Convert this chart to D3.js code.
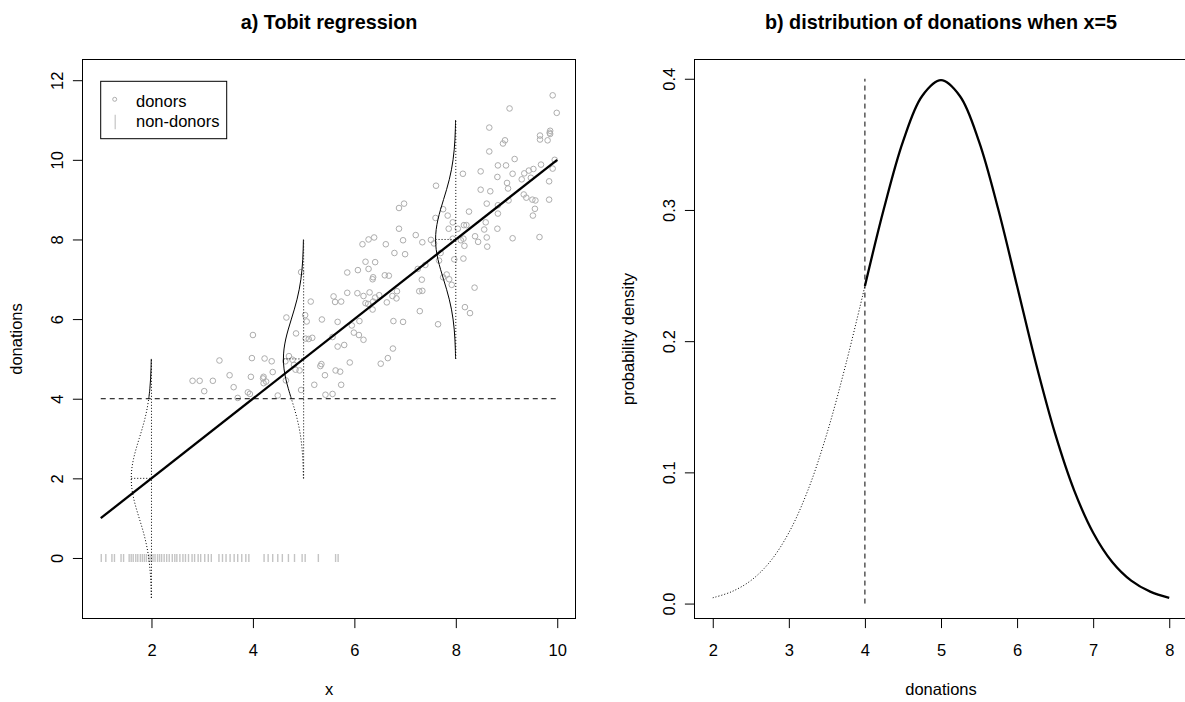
<!DOCTYPE html>
<html>
<head>
<meta charset="utf-8">
<script src="https://cdn.jsdelivr.net/npm/d3@7"></script>
<style>
  body { margin: 0; background: #fff; }
  svg { display: block; }
  text { font-family: "Liberation Sans", Arial, Helvetica, sans-serif; fill: #000; }
</style>
</head>
<body>
<svg id="chart" width="1185" height="702"></svg>
<script>
var donorX = [
  9.91,9.06,9.99,8.66,8.97,8.93,9.66,9.86,9.85,9.86,
  9.66,9.81,8.66,9.16,8.83,8.99,9.95,9.91,9.68,8.49,
  8.14,9.12,9.35,9.44,9.53,9.30,9.48,8.82,9.01,9.84,
  7.61,8.49,8.68,9.03,9.34,9.39,9.51,9.57,9.04,9.84,
  8.61,8.83,9.56,9.52,7.75,7.60,7.84,8.26,7.94,7.86,
  8.04,8.16,8.21,8.59,8.56,8.82,8.83,9.65,9.12,8.38,
  8.44,8.61,8.62,8.15,8.10,8.17,7.94,7.51,7.57,7.34,
  7.21,6.88,6.88,6.98,6.96,7.00,6.79,6.62,6.16,6.28,
  6.39,7.67,7.70,7.97,8.15,7.40,7.25,7.33,7.28,7.34,
  7.75,7.82,7.87,7.92,7.29,7.65,8.18,8.28,8.37,6.68,
  6.60,6.37,6.36,6.28,6.22,6.41,6.07,5.86,6.06,6.18,
  6.30,6.49,6.41,6.37,6.22,6.27,6.36,6.64,6.75,6.84,
  6.83,6.77,6.96,6.76,6.66,6.52,5.59,5.62,5.74,5.86,
  5.67,6.10,5.95,5.99,6.09,6.18,5.57,5.14,5.03,5.06,
  5.04,5.10,5.17,5.36,4.66,4.85,4.95,4.71,4.64,4.78,
  4.81,4.84,4.92,4.95,5.35,5.33,5.42,5.21,5.67,5.80,
  5.91,5.63,5.72,5.74,5.43,5.57,4.49,4.65,4.39,4.37,
  4.21,4.20,4.21,4.26,4.23,3.98,3.96,4.00,3.62,3.70,
  3.90,3.94,3.54,3.34,3.21,3.04,2.95,2.81]
var donorY = [
  11.62,11.29,11.18,10.81,10.49,10.41,10.61,10.73,10.68,10.65,
  10.51,10.49,10.21,10.02,9.86,9.86,10.00,9.78,9.88,9.71,
  9.65,9.65,9.66,9.73,9.77,9.51,9.55,9.57,9.42,9.46,
  9.35,9.25,9.21,9.28,9.13,9.05,9.00,8.98,8.98,9.00,
  8.90,8.86,8.77,8.60,8.76,8.54,8.60,8.70,8.43,8.27,
  8.27,8.36,8.36,8.43,8.25,8.27,8.65,8.06,8.03,8.08,
  7.94,8.05,7.82,8.02,7.98,7.84,8.02,7.99,7.90,7.93,
  8.11,8.27,8.79,8.90,7.98,7.63,7.66,7.88,7.88,8.00,
  8.05,7.47,7.66,7.50,7.52,7.36,7.26,6.99,6.70,6.71,
  7.05,7.12,7.00,6.86,6.20,5.87,6.30,6.15,6.79,7.09,
  7.10,7.05,7.00,7.26,7.44,7.43,7.23,7.17,6.65,6.58,
  6.67,6.60,6.54,6.44,6.40,6.38,6.24,6.42,6.58,6.70,
  6.52,5.95,5.93,5.26,5.02,4.88,6.57,6.43,6.44,6.66,
  5.93,5.95,5.84,5.66,5.60,5.48,5.55,6.44,6.10,5.94,
  5.51,5.50,5.53,5.99,6.04,5.64,7.18,5.07,4.94,4.98,
  4.85,4.73,4.71,4.22,4.87,4.82,4.59,4.35,5.31,5.35,
  4.91,4.71,4.68,4.35,4.10,4.12,4.08,4.46,4.67,4.94,
  4.55,4.51,4.39,4.43,5.01,5.02,4.55,5.60,4.29,4.02,
  4.16,4.12,4.59,4.96,4.45,4.19,4.45,4.45]

// non-donors sit on the rug at donations = 0
var nonDonorX = [1.01,1.10,1.22,1.27,1.40,1.45,1.56,1.60,1.64,1.69,1.73,1.78,1.82,1.86,1.90,1.95,
  1.99,2.03,2.07,2.12,2.16,2.20,2.25,2.30,2.35,2.41,2.46,2.50,2.56,2.62,2.67,2.73,2.80,2.85,
  2.92,2.97,3.05,3.12,3.18,3.33,3.40,3.47,3.55,3.63,3.70,3.78,3.86,3.92,4.22,4.30,4.39,4.49,
  4.58,4.70,4.82,4.97,5.03,5.29,5.63,5.68]

// fitted line y = x, censoring threshold, and where the error densities are drawn
var lineX = [1, 10]
var lineY = [1, 10]
var threshold = 4
var densityCentres = [2, 5, 8]

// density shape (offset from mean, density)
var densOffset = [-3,-2.75,-2.5,-2.25,-2,-1.75,-1.5,-1.25,-1,-0.75,-0.5,-0.25,0,
  0.25,0.5,0.75,1,1.25,1.5,1.75,2,2.25,2.5,2.75,3]
var densValue = [0.0044,0.0091,0.0175,0.0317,0.0540,0.0863,0.1295,0.1826,0.2420,0.3011,0.3521,0.3867,0.3989,
  0.3867,0.3521,0.3011,0.2420,0.1826,0.1295,0.0863,0.0540,0.0317,0.0175,0.0091,0.0044]
var bMean = 5

var aXTicks = [2, 4, 6, 8, 10]
var aYTicks = [0, 2, 4, 6, 8, 10, 12]
var bXTicks = [2, 3, 4, 5, 6, 7, 8]
var bYTicks = [0, 0.1, 0.2, 0.3, 0.4]

var fontBase = 16.5, fontMain = 19.8
var svg = d3.select("#chart")

function padRange(lo, hi) {
  var e = (hi - lo) * 0.04
  return [lo - e, hi + e]
}

function drawFrame(x, y, xt, yt, title, xlab, ylab, yfmt) {
  var x0 = x.range()[0], x1 = x.range()[1]
  var y0 = y.range()[0], y1 = y.range()[1]
  svg.append("rect")
    .attr("x", x0).attr("y", y1)
    .attr("width", x1 - x0).attr("height", y0 - y1)
    .attr("fill", "none").attr("stroke", "#000").attr("stroke-width", 1)

  var gx = svg.append("g").attr("transform", "translate(0," + y0 + ")")
    .call(d3.axisBottom(x).tickValues(xt).tickSize(9.6).tickPadding(16)
      .tickSizeOuter(0).tickFormat(d3.format("d")))
  gx.select(".domain").remove()
  gx.append("line").attr("x1", x(xt[0])).attr("x2", x(xt[xt.length - 1]))
    .attr("stroke", "#000")
  gx.selectAll("text").style("font-size", fontBase + "px")
    .style("font-family", "'Liberation Sans', Arial, sans-serif").attr("fill", "#000")

  var gy = svg.append("g").attr("transform", "translate(" + x0 + ",0)")
    .call(d3.axisLeft(y).tickValues(yt).tickSize(9.6).tickSizeOuter(0).tickFormat(yfmt))
  gy.select(".domain").remove()
  gy.append("line").attr("y1", y(yt[0])).attr("y2", y(yt[yt.length - 1]))
    .attr("stroke", "#000")
  gy.selectAll("text")
    .attr("transform", "rotate(-90)")
    .attr("x", 0).attr("y", -25.4).attr("dy", "0.36em")
    .attr("text-anchor", "middle")
    .style("font-size", fontBase + "px")
    .style("font-family", "'Liberation Sans', Arial, sans-serif").attr("fill", "#000")

  var cx = (x0 + x1) / 2, cy = (y0 + y1) / 2
  svg.append("text").attr("x", cx).attr("y", y1 - 30.5)
    .attr("text-anchor", "middle").style("font-size", fontMain + "px")
    .style("font-weight", "bold").text(title)
  svg.append("text").attr("x", cx).attr("y", y0 + 76)
    .attr("text-anchor", "middle").style("font-size", fontBase + "px").text(xlab)
  svg.append("text")
    .attr("transform", "translate(" + (x0 - 65.4) + "," + cy + ") rotate(-90)")
    .attr("dy", "0.3em")
    .attr("text-anchor", "middle").style("font-size", fontBase + "px").text(ylab)
}

// ---- panel a) Tobit regression
var xA = d3.scaleLinear().domain(padRange(1, 10)).range([82.5, 575.5])
var yA = d3.scaleLinear().domain(padRange(-1, 12)).range([618.5, 59.5])

drawFrame(xA, yA, aXTicks, aYTicks, "a) Tobit regression", "x", "donations", d3.format("d"))

var donors = d3.zip(donorX, donorY)
svg.append("g").selectAll("circle").data(donors).enter()
  .append("circle")
  .attr("cx", function(d) { return xA(d[0]) })
  .attr("cy", function(d) { return yA(d[1]) })
  .attr("r", 2.8)
  .attr("fill", "none")
  .attr("stroke", "#adadad")
  .attr("stroke-width", 1)

svg.append("g").selectAll("line").data(nonDonorX).enter()
  .append("line")
  .attr("x1", function(d) { return xA(d) }).attr("x2", function(d) { return xA(d) })
  .attr("y1", yA(0) - 4).attr("y2", yA(0) + 4)
  .attr("stroke", "#c4c4c4").attr("stroke-width", 1.4)

// censoring threshold
svg.append("line")
  .attr("x1", xA(lineX[0])).attr("x2", xA(lineX[1]))
  .attr("y1", yA(threshold)).attr("y2", yA(threshold))
  .attr("stroke", "#000").attr("stroke-dasharray", "5,4")

// fitted line
svg.append("line")
  .attr("x1", xA(lineX[0])).attr("y1", yA(lineY[0]))
  .attr("x2", xA(lineX[1])).attr("y2", yA(lineY[1]))
  .attr("stroke", "#000").attr("stroke-width", 2.3)

var dens = d3.zip(densOffset, densValue)
var sideCurve = d3.line().curve(d3.curveCatmullRom)

densityCentres.forEach(function(c) {
  var mu = c  // line is y = x
  var cut = threshold - mu
  var below = dens.filter(function(d) { return d[0] <= cut })
  var above = dens.filter(function(d) { return d[0] >= cut })
  var toPt = function(d) { return [xA(c - d[1]), yA(mu + d[0])] }
  if (below.length > 1) {
    svg.append("path").attr("d", sideCurve(below.map(toPt)))
      .attr("fill", "none").attr("stroke", "#000").attr("stroke-dasharray", "1,2")
  }
  if (above.length > 1) {
    svg.append("path").attr("d", sideCurve(above.map(toPt)))
      .attr("fill", "none").attr("stroke", "#000")
  }
  // vertical axis of the density and its mode
  svg.append("line")
    .attr("x1", xA(c)).attr("x2", xA(c))
    .attr("y1", yA(mu + densOffset[0])).attr("y2", yA(mu + densOffset[densOffset.length - 1]))
    .attr("stroke", "#000").attr("stroke-dasharray", "1,2")
  svg.append("line")
    .attr("x1", xA(c - d3.max(densValue))).attr("x2", xA(c))
    .attr("y1", yA(mu)).attr("y2", yA(mu))
    .attr("stroke", "#000").attr("stroke-dasharray", "1,2")
})

// legend
var lg = svg.append("g").attr("transform", "translate(" + (xA.range()[0] + 18.2) + "," + (yA.range()[1] + 21.8) + ")")
lg.append("rect").attr("width", 126).attr("height", 57.4)
  .attr("fill", "#fff").attr("stroke", "#000")
lg.append("circle").attr("cx", 14).attr("cy", 18).attr("r", 2)
  .attr("fill", "none").attr("stroke", "#adadad")
lg.append("line").attr("x1", 14.5).attr("x2", 14.5).attr("y1", 33.5).attr("y2", 48)
  .attr("stroke", "#c4c4c4").attr("stroke-width", 1.2)
lg.append("text").attr("x", 35.3).attr("y", 25.8).style("font-size", fontBase + "px").text("donors")
lg.append("text").attr("x", 35.3).attr("y", 45.3).style("font-size", fontBase + "px").text("non-donors")

// ---- panel b) distribution of donations when x=5
var xB = d3.scaleLinear().domain(padRange(2, 8)).range([694.5, 1187.5])
var yB = d3.scaleLinear().domain(padRange(d3.min(densValue), d3.max(densValue))).range([618.5, 59.5])

drawFrame(xB, yB, bXTicks, bYTicks, "b) distribution of donations when x=5", "donations",
  "probability density", d3.format(".1f"))

svg.append("line")
  .attr("x1", xB(threshold)).attr("x2", xB(threshold))
  .attr("y1", yB(0)).attr("y2", yB(0.4))
  .attr("stroke", "#000").attr("stroke-dasharray", "5,4")

var bCurve = d3.line()
  .x(function(d) { return xB(bMean + d[0]) })
  .y(function(d) { return yB(d[1]) })
  .curve(d3.curveCatmullRom)
var cutB = threshold - bMean
svg.append("path")
  .attr("d", bCurve(dens.filter(function(d) { return d[0] <= cutB })))
  .attr("fill", "none").attr("stroke", "#000").attr("stroke-width", 1)
  .attr("stroke-dasharray", "1,2")
svg.append("path")
  .attr("d", bCurve(dens.filter(function(d) { return d[0] >= cutB })))
  .attr("fill", "none").attr("stroke", "#000").attr("stroke-width", 2.3)
</script>
</body>
</html>
